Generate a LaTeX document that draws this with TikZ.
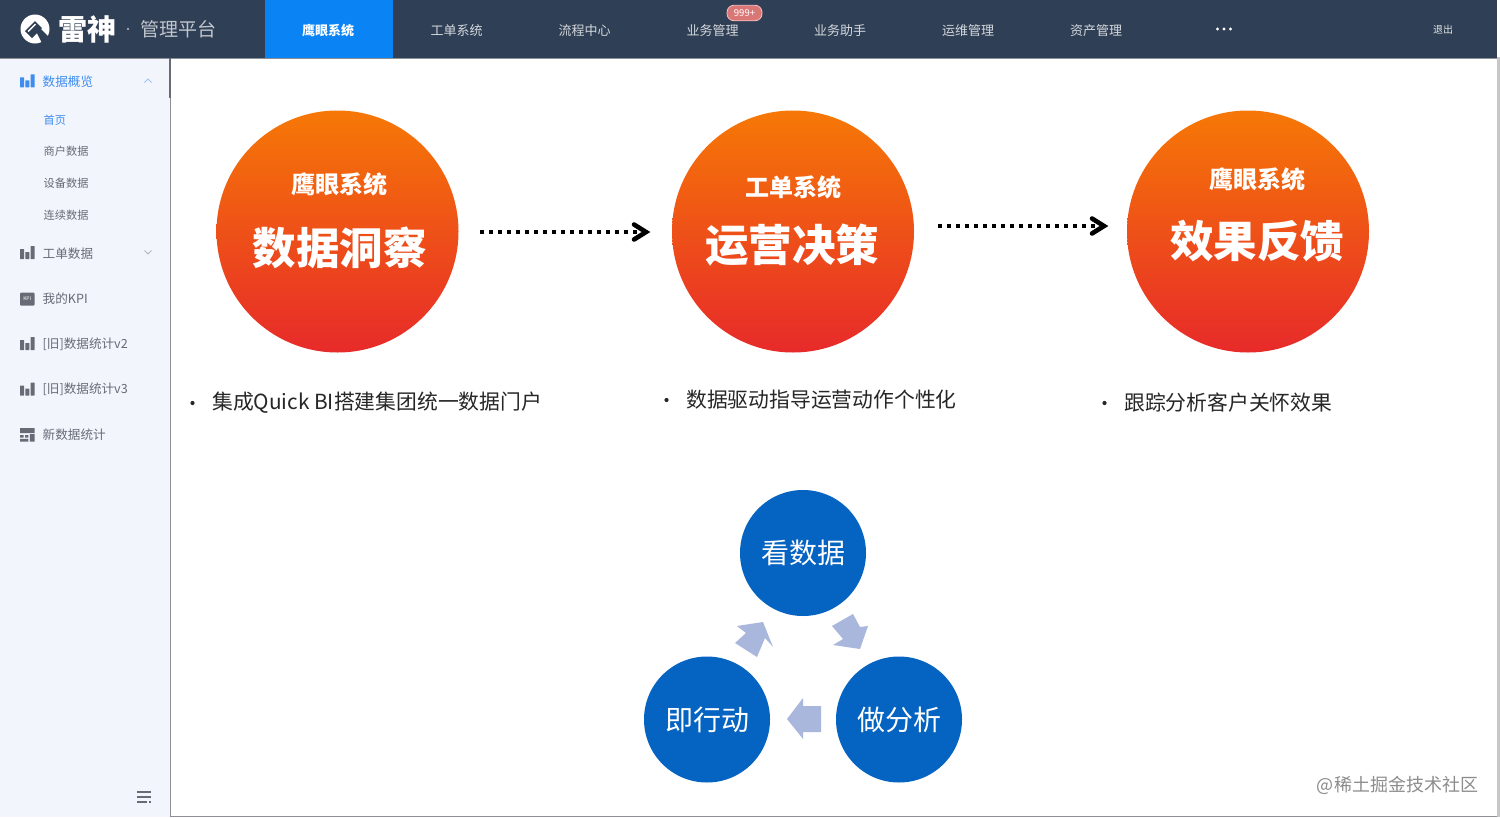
\documentclass[tikz,border=0pt]{standalone}
\usepackage{fontspec}
\setmainfont{Noto Sans CJK SC}
\usetikzlibrary{arrows.meta,calc}
\definecolor{barbg}{HTML}{2F3F55}
\definecolor{active}{HTML}{0A84F5}
\definecolor{sidebg}{HTML}{F2F5FC}
\definecolor{sidegray}{HTML}{666B75}
\definecolor{sideblue}{HTML}{3E8DF0}
\definecolor{topo}{HTML}{F67806}
\definecolor{botr}{HTML}{E72A2A}
\definecolor{circblue}{HTML}{0563C1}
\definecolor{blockc}{HTML}{AAB7DC}
\definecolor{framec}{HTML}{8C9096}
\newcommand{\fs}[1]{\fontsize{#1}{#1}\selectfont}
\newcommand{\baricon}[3]{%
  \fill[#3,rounded corners=0.4pt] (#1,#2) rectangle ++(4,-10);
  \fill[#3,rounded corners=0.4pt] (#1+5.3,#2) rectangle ++(4,-7);
  \fill[#3,rounded corners=0.4pt] (#1+10.6,#2) rectangle ++(4,-13);}
\tikzset{
  x=1pt,y=-1pt,
  toptext/.style={text=#1,font=\fs{13},inner sep=0pt,anchor=center},
  sidetext/.style={text=#1,font=\fs{12.6},inner sep=0pt,anchor=west},
  subtext/.style={text=#1,font=\fs{11.2},inner sep=0pt,anchor=west},
  orange/.style={circle,minimum size=242pt,inner sep=0pt,top color=topo,bottom color=botr,draw=none},
  bluec/.style={circle,minimum size=126pt,inner sep=0pt,fill=circblue,text=white,font=\fs{28}},
  smalltitle/.style={text=white,font=\fs{24}\bfseries,inner sep=0pt},
  bigtitle/.style={text=white,font=\fs{43.5}\bfseries,inner sep=0pt},
  bullettext/.style={text=black!85,font=\fs{20.8},inner sep=0pt,anchor=west},
  dotarrow/.style={line width=4pt,black,dash pattern=on 4pt off 5pt},
  arrowhook/.style={line width=4.6pt,black,line cap=round,line join=miter},
  blockarrow/.style={fill=blockc,draw=none},
}
\begin{document}
\begin{tikzpicture}
\useasboundingbox (0,0) rectangle (1500,817);
\fill[white] (0,0) rectangle (1500,817);
% panels
\fill[sidebg] (0,58) rectangle (170,817);
\fill[barbg] (0,0) rectangle (1497,58);
\fill[active] (264.5,0) rectangle (392.5,58);
\draw[framec,line width=1pt] (0,58.5) -- (1497,58.5);
\draw[framec,line width=1.4pt] (170.5,58) -- (170.5,816.3) -- (1497,816.3);
\fill[black!22] (1497,57) rectangle (1499.5,817);
\draw[sidegray,line width=2pt] (170,58) -- (170,98);
% logo
\fill[white] (35,29) circle (14.5);
\fill[barbg] (25,31) -- (35,21) -- (42,28) -- (32,38) -- cycle;
\fill[barbg] (36,31) -- (39.5,27.5) -- (52,40) -- (48,45) -- (43,45) -- cycle;
\fill[white] (27.7,31) -- (35,23.7) -- (36,24.7) -- (28.7,32) -- cycle;
\node[text=white,font=\fs{29}\bfseries,inner sep=0pt] (brand) at (87,29) {雷神};
\node[text=white!70!barbg,font=\fs{19},inner sep=0pt] (brandsub) at (178,29.5) {管理平台};
\fill[white!70!barbg] (128,29) circle (1.2);
% top menu
\node[toptext=white,font=\fs{13}\bfseries] (m1) at (328,30.5) {鹰眼系统};
\node[toptext=white!80!barbg] (m2) at (456.5,30.5) {工单系统};
\node[toptext=white!80!barbg] (m3) at (584.5,30.5) {流程中心};
\node[toptext=white!80!barbg] (m4) at (712.5,30.5) {业务管理};
\node[toptext=white!80!barbg] (m5) at (840,30.5) {业务助手};
\node[toptext=white!80!barbg] (m6) at (968,30.5) {运维管理};
\node[toptext=white!80!barbg] (m7) at (1096,30.5) {资产管理};
\foreach \xx in {1217.5,1224,1230.5} \fill[white] (\xx,29) circle (1.7);
\node[toptext=white!85!barbg,font=\fs{10}] (logout) at (1443,29.5) {退出};
\node[rounded corners=7pt,fill=red!45!white!85!black,draw=white!75!red,line width=0.8pt,minimum width=35pt,minimum height=15.5pt,inner sep=0pt,text=white,font=\fs{9.5}] (badge) at (744.5,13) {999+};
% sidebar
\baricon{20}{87.3}{sideblue}
\node[sidetext=sideblue] (s1) at (42.5,81.5) {数据概览};
\draw[sideblue!50!white,line width=0.8pt] (144.5,82.5) -- (148,79) -- (151.5,82.5);
\node[subtext=sideblue] (s11) at (43.5,120) {首页};
\node[subtext=sidegray] (s12) at (43.5,151.5) {商户数据};
\node[subtext=sidegray] (s13) at (43.5,183.3) {设备数据};
\node[subtext=sidegray] (s14) at (43.5,215.3) {连续数据};
\baricon{20}{259}{sidegray}
\node[sidetext=sidegray] (s2) at (42.5,253.5) {工单数据};
\draw[sidegray!50!white,line width=0.8pt] (144.5,250.5) -- (148,254) -- (151.5,250.5);
\fill[sidegray,rounded corners=1pt] (20,292.5) rectangle (34.5,305.5);
\node[text=white,font=\fs{5},inner sep=0pt] (kpi) at (27.2,299) {KPI};
\node[sidetext=sidegray] (s3) at (42.5,298.5) {我的KPI};
\baricon{20}{350}{sidegray}
\node[sidetext=sidegray] (s4) at (42.5,344) {[旧]数据统计v2};
\baricon{20}{395.5}{sidegray}
\node[sidetext=sidegray] (s5) at (42.5,389.5) {[旧]数据统计v3};
\fill[sidegray] (20,428) rectangle (34.5,433) (29.8,434) rectangle (34.5,441.5) (20,435) rectangle (23.5,437.5) (25,435) rectangle (28.3,437.5) (20,438.8) rectangle (28.3,441.5);
\node[sidetext=sidegray] (s6) at (42.5,435) {新数据统计};
\draw[sidegray,line width=2pt] (137,792) -- (151,792) (137,797) -- (151,797) (137,802) -- (147,802);
\fill[sidegray] (149,801) rectangle (151,803);
% orange circles
\node[orange] (c1) at (337.5,231.5) {};
\node[orange] (c2) at (793,231.5) {};
\node[orange] (c3) at (1248,231.5) {};
\node[smalltitle] (t1) at (339.5,184.5) {鹰眼系统};
\node[bigtitle] (b1) at (339.5,248) {数据洞察};
\node[smalltitle] (t2) at (793,187.5) {工单系统};
\node[bigtitle] (b2) at (792,245) {运营决策};
\node[smalltitle] (t3) at (1257,179.5) {鹰眼系统};
\node[bigtitle] (b3) at (1257,241.5) {效果反馈};
% dotted arrows
\coordinate (a1s) at (480,232);
\coordinate (a1e) at (646,232);
\coordinate (a2s) at (938,226);
\coordinate (a2e) at (1104,226);
\draw[dotarrow] (a1s) -- (a1e);
\draw[arrowhook] ($(a1e)+(-12,-7.5)$) -- (a1e) -- ($(a1e)+(-12,7.5)$);
\draw[dotarrow] (a2s) -- (a2e);
\draw[arrowhook] ($(a2e)+(-12,-7.5)$) -- (a2e) -- ($(a2e)+(-12,7.5)$);
% bullets
\fill[black!85] (192.5,403) circle (2.1);
\node[bullettext] (p1) at (212,403) {集成Quick BI搭建集团统一数据门户};
\fill[black!85] (666.5,400) circle (2.1);
\node[bullettext] (p2) at (686,400) {数据驱动指导运营动作个性化};
\fill[black!85] (1104.5,403) circle (2.1);
\node[bullettext] (p3) at (1124,403) {跟踪分析客户关怀效果};
% cycle
\node[bluec] (look) at (803,553) {看数据};
\node[bluec] (act) at (707,719.5) {即行动};
\node[bluec] (ana) at (899,719.5) {做分析};
\fill[blockarrow] (735,643) -- (746,633) -- (737,626) -- (763,622) -- (773,647) -- (765,638) -- (757,657) -- cycle;
\fill[blockarrow] (832,626) -- (853,614) -- (860,627) -- (868,626) -- (860,649) -- (833,645) -- (843,639) -- cycle;
\fill[blockarrow] (821,706) -- (803,706) -- (803,698) -- (787,719) -- (803,739) -- (803,732) -- (821,732) -- cycle;
% watermark
\node[text=black!45,font=\fs{18},inner sep=0pt] (wm) at (1397.5,785) {@稀土掘金技术社区};
\end{tikzpicture}
\end{document}
